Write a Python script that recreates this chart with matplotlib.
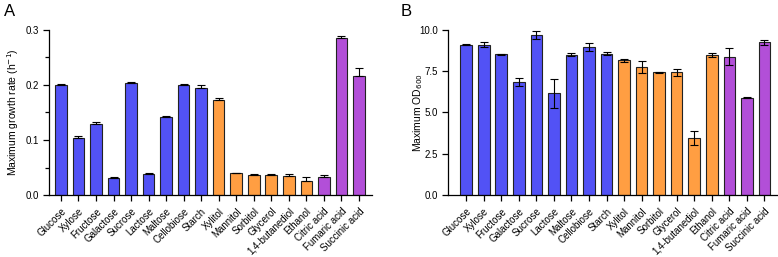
import matplotlib
matplotlib.use("Agg")
import matplotlib.pyplot as plt
import numpy as np
from matplotlib.ticker import MultipleLocator

plt.rcParams['font.family'] = ['Liberation Sans', 'DejaVu Sans']

categories = ["Glucose", "Xylose", "Fructose", "Galactose", "Sucrose", "Lactose",
              "Maltose", "Cellobiose", "Starch", "Xylitol", "Mannitol", "Sorbitol",
              "Glycerol", "1,4-butanediol", "Ethanol", "Citric acid", "Fumaric acid",
              "Succinic acid"]

growth_A = [0.200, 0.104, 0.129, 0.031, 0.203, 0.039, 0.141, 0.200, 0.195, 0.173,
            0.040, 0.037, 0.037, 0.035, 0.026, 0.032, 0.285, 0.217]
err_A = [0.001, 0.003, 0.003, 0.001, 0.003, 0.001, 0.003, 0.001, 0.004, 0.004,
         0.0005, 0.0005, 0.001, 0.004, 0.006, 0.004, 0.003, 0.014]
groups_A = ["s"] * 9 + ["a"] * 6 + ["o"] * 3

od_B = [9.10, 9.10, 8.52, 6.85, 9.70, 6.15, 8.50, 8.98, 8.55, 8.15, 7.75, 7.42,
        7.42, 3.45, 8.47, 8.38, 5.90, 9.25]
err_B = [0.04, 0.15, 0.02, 0.22, 0.25, 0.90, 0.08, 0.25, 0.08, 0.08, 0.35, 0.02,
         0.20, 0.40, 0.12, 0.50, 0.04, 0.15]
groups_B = ["s"] * 9 + ["a"] * 6 + ["o"] * 3

colors = {"s": "#5252F5", "a": "#FF9E42", "o": "#B24FD8"}
edge = "#222222"

fig = plt.figure(figsize=(7.78, 2.57), dpi=100)
axA = fig.add_axes([0.063, 0.241, 0.415, 0.643])
axB = fig.add_axes([0.576, 0.241, 0.4225, 0.643])

x = np.arange(len(categories))

def style(ax):
    ax.spines['top'].set_visible(False)
    ax.spines['right'].set_visible(False)
    for s in ['left', 'bottom']:
        ax.spines[s].set_linewidth(0.9)
    ax.tick_params(axis='both', direction='out', length=4, width=0.9, labelsize=7)
    ax.tick_params(axis='x', pad=4)
    ax.tick_params(axis='y', which='minor', direction='out', length=3, width=0.9)
    ax.set_xticks(x)
    ax.set_xticklabels(categories, rotation=45, ha='right', rotation_mode='anchor', fontsize=7)

# Panel A
bcA = [colors[g] for g in groups_A]
axA.bar(x, growth_A, width=0.66, color=bcA, edgecolor=edge, linewidth=0.8, zorder=2)
axA.errorbar(x, growth_A, yerr=[np.zeros(len(err_A)), err_A], fmt='none',
             ecolor='black', elinewidth=0.8, capsize=3, capthick=0.8, zorder=3)
axA.set_xlim(-0.68, 17.74)
axA.set_ylim(0, 0.3)
axA.set_yticks([0.0, 0.1, 0.2, 0.3])
axA.set_yticklabels(["0.0", "0.1", "0.2", "0.3"])
axA.yaxis.set_minor_locator(MultipleLocator(0.05))
axA.set_ylabel("Maximum growth rate (h$^{-1}$)", fontsize=7.5)
style(axA)
axA.yaxis.set_label_coords(-0.088, 0.5)

# Panel B
bcB = [colors[g] for g in groups_B]
axB.bar(x, od_B, width=0.66, color=bcB, edgecolor=edge, linewidth=0.8, zorder=2)
axB.errorbar(x, od_B, yerr=err_B, fmt='none',
             ecolor='black', elinewidth=0.8, capsize=3, capthick=0.8, zorder=3)
axB.set_xlim(-1.03, 17.71)
axB.set_ylim(0, 10)
axB.set_yticks([0.0, 2.5, 5.0, 7.5, 10.0])
axB.set_yticklabels(["0.0", "2.5", "5.0", "7.5", "10.0"])
axB.set_ylabel("Maximum OD$_{600}$", fontsize=7.5)
style(axB)
axB.yaxis.set_label_coords(-0.07, 0.5)

fig.text(0.005, 0.955, "A", fontsize=12, va='center', ha='left')
fig.text(0.515, 0.955, "B", fontsize=12, va='center', ha='left')

fig.savefig("out.png", dpi=100)
